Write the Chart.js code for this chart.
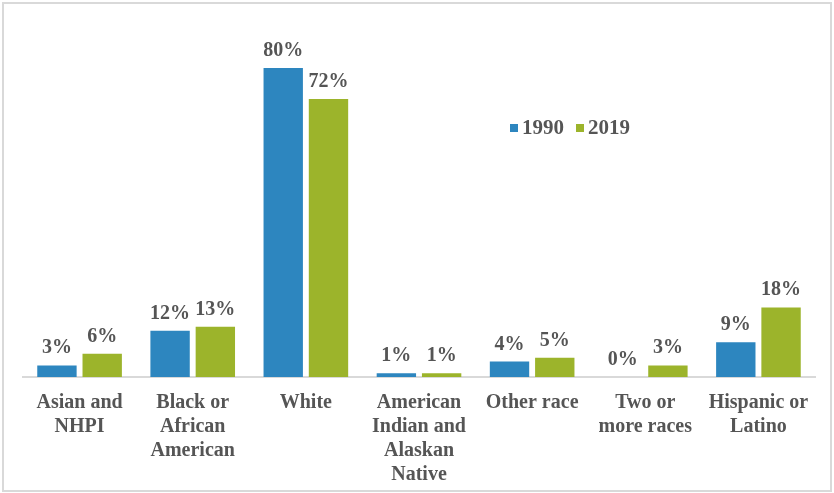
<!DOCTYPE html>
<html>
<head>
<meta charset="utf-8">
<script src="https://cdn.jsdelivr.net/npm/chart.js@4"></script>
<style>
    html, body { margin: 0; padding: 0; background: #fff; }
    #wrap { position: relative; width: 834px; height: 493px; }
</style>
</head>
<body>
<div id="wrap"><canvas id="raceChart"></canvas></div>
<script>
const categories = [
    ['Asian and', 'NHPI'],
    ['Black or', 'African', 'American'],
    'White',
    ['American', 'Indian and', 'Alaskan', 'Native'],
    'Other race',
    ['Two or', 'more races'],
    ['Hispanic or', 'Latino']
];
const years = ['1990', '2019'];
const share1990 = [3, 12, 80, 1, 4, 0, 9];
const share2019 = [6, 13, 72, 1, 5, 3, 18];

const BLUE = '#2D86BF';
const GREEN = '#9CB42B';
const TEXT = '#555555';
const FONT = 'Liberation Serif';

// percent values written above each bar
const valueLabels = {
    id: 'valueLabels',
    afterDatasetsDraw(chart) {
        const ctx = chart.ctx;
        ctx.save();
        ctx.font = 'bold 20px ' + FONT;
        ctx.fillStyle = TEXT;
        ctx.textAlign = 'center';
        ctx.textBaseline = 'alphabetic';
        chart.data.datasets.forEach((ds, i) => {
            chart.getDatasetMeta(i).data.forEach((bar, j) => {
                ctx.fillText(ds.data[j] + '%', bar.x, bar.y - 12);
            });
        });
        ctx.restore();
    }
};

// small legend sitting inside the plot, right of the tallest bars
const innerLegend = {
    id: 'innerLegend',
    afterDraw(chart) {
        const ctx = chart.ctx;
        ctx.save();
        ctx.font = 'bold 21px ' + FONT;
        ctx.textBaseline = 'middle';
        let x = 510;
        const y = 128;
        chart.data.datasets.forEach(ds => {
            ctx.fillStyle = ds.backgroundColor;
            ctx.fillRect(x, y - 4, 8, 8);
            ctx.fillStyle = TEXT;
            ctx.fillText(ds.label, x + 12, y + 1);
            x += 12 + ctx.measureText(ds.label).width + 12;
        });
        ctx.restore();
    }
};

// light frame round the whole figure
const frame = {
    id: 'frame',
    beforeDraw(chart) {
        const ctx = chart.ctx;
        ctx.save();
        ctx.strokeStyle = '#d9d9d9';
        ctx.lineWidth = 2;
        ctx.strokeRect(3, 3, chart.width - 6, chart.height - 5);
        ctx.restore();
    }
};

new Chart(document.getElementById('raceChart'), {
    type: 'bar',
    data: {
        labels: categories,
        datasets: [
            {label: years[0], data: share1990, backgroundColor: BLUE},
            {label: years[1], data: share2019, backgroundColor: GREEN}
        ]
    },
    options: {
        responsive: true,
        maintainAspectRatio: false,
        animation: false,
        layout: {
            padding: {left: 23, right: 19, top: 68, bottom: 6}
        },
        datasets: {
            bar: {categoryPercentage: 0.8, barPercentage: 0.87}
        },
        scales: {
            x: {
                grid: {display: false, drawTicks: false},
                border: {color: '#d9d9d9', width: 2},
                // keep the label band a fixed height so the baseline sits low
                afterFit(scale) {
                    scale.height = 110;
                },
                ticks: {
                    autoSkip: false,
                    maxRotation: 0,
                    padding: 14,
                    color: TEXT,
                    font: {family: FONT, size: 20, weight: 'bold', lineHeight: 1.2}
                }
            },
            y: {
                display: false,
                min: 0,
                max: 80
            }
        },
        plugins: {
            legend: {display: false},
            tooltip: {enabled: false}
        }
    },
    plugins: [frame, valueLabels, innerLegend]
});
</script>
</body>
</html>
